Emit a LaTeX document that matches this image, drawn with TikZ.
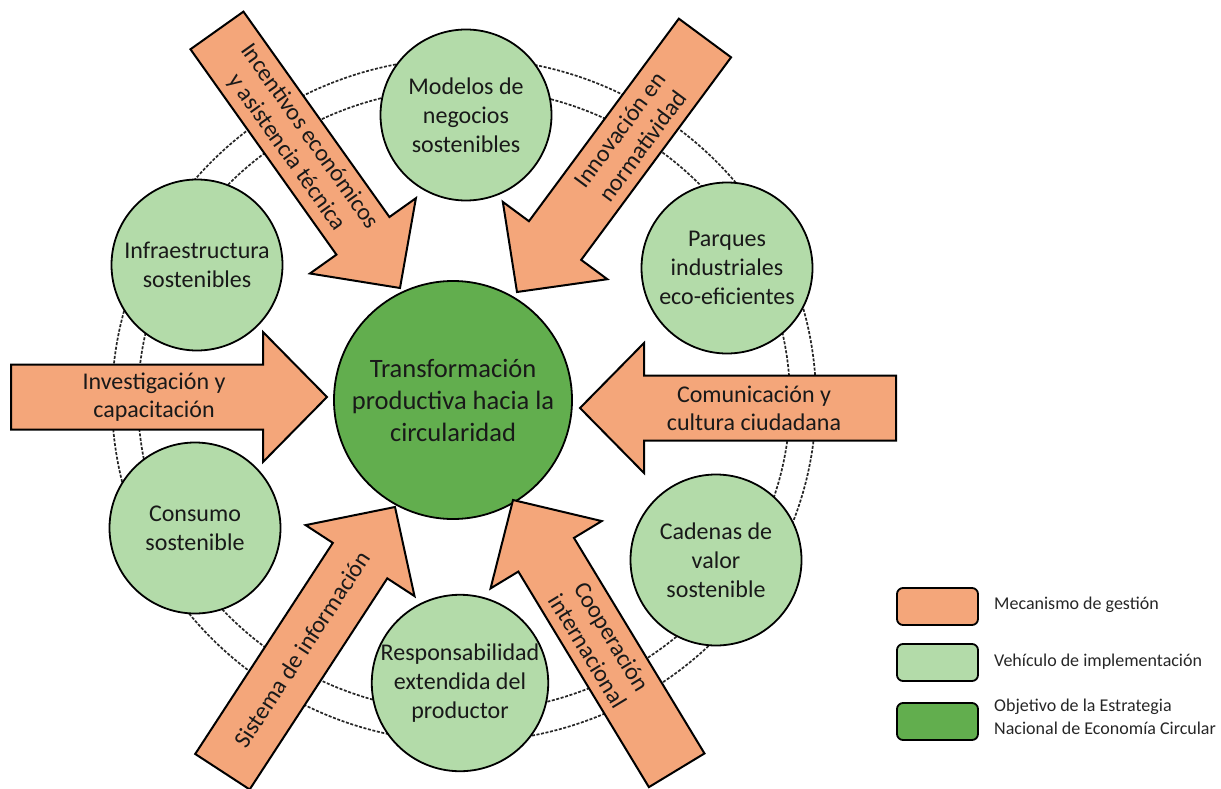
\documentclass[tikz,border=0pt]{standalone}
\usepackage{fontspec}
\setmainfont{Carlito}
\definecolor{morange}{HTML}{F4A67A}
\definecolor{lgreen}{HTML}{B3DBA9}
\definecolor{dgreen}{HTML}{62AE4E}
% name, tip x, tip y, arrow angle, text angle, text distance from tip, text
\newcommand\mecharrow[7]{%
  \begin{scope}[shift={(#2,#3)}, rotate=#4]
    \draw[arrowbox] (0,0) -- (-64,65) -- (-64,32.5) -- (-316,32.5) -- (-316,-32.5) -- (-64,-32.5) -- (-64,-65) -- cycle;
    \node[arrowtext, rotate=#5] (#1) at (-#6,0) {#7};
  \end{scope}}
\begin{document}
\begin{tikzpicture}[x=1pt,y=-1pt,
  vehic/.style={circle, draw=black, line width=1.8pt, fill=lgreen, minimum size=171pt, inner sep=0pt, align=center, font=\fontsize{24}{29}\selectfont, text=black!90},
  objet/.style={circle, draw=black, line width=1.8pt, fill=dgreen, minimum size=238pt, inner sep=0pt, align=center, font=\fontsize{26.5}{32}\selectfont, text=black!90},
  arrowbox/.style={draw=black, line width=2pt, fill=morange, line join=miter},
  arrowtext/.style={align=center, font=\fontsize{24}{28}\selectfont, inner sep=0pt, text=black!90},
  ring/.style={draw=black!85, line width=1.7pt, dash pattern=on 3pt off 1.6pt},
  legbox/.style={draw=black, line width=1.8pt, rounded corners=6pt, minimum width=81pt, minimum height=37pt, inner sep=0pt},
  legtext/.style={anchor=west, align=left, font=\fontsize{18}{23}\selectfont, inner sep=0pt, text=black!85}
]
\useasboundingbox (0,0) rectangle (1221,789);
% dashed rings
\draw[ring] (464,400) ellipse [x radius=352, y radius=342];
\draw[ring] (464,400) ellipse [x radius=326, y radius=312];
% vehicles
\node[vehic] (modelos) at (466,115) {Modelos de\\negocios\\sostenibles};
\node[vehic] (parques) at (727,268) {Parques\\industriales\\eco-eficientes};
\node[vehic] (infra) at (197,265) {Infraestructura\\sostenibles};
\node[vehic] (consumo) at (195,528) {Consumo\\sostenible};
\node[vehic] (resp) at (460,683) {Responsabilidad\\extendida del\\productor};
\node[vehic] (cadenas) at (716,560) {Cadenas de\\valor\\sostenible};
% objective
\node[objet] (centro) at (453,400) {Transformación\\productiva hacia la\\circularidad};
% mechanisms
\mecharrow{incent}{400}{288}{-54.6}{-54.6}{176}{Incentivos económicos\\y asistencia técnica}
\mecharrow{innov}{517}{292}{-126.5}{53.5}{192}{Innovación en\\normatividad}
\mecharrow{invest}{327}{397}{0}{0}{173}{Investigación y\\capacitación}
\mecharrow{comun}{580}{408}{180}{0}{174}{Comunicación y\\cultura ciudadana}
\mecharrow{sist}{395}{507}{56.9}{56.9}{170}{Sistema de información}
\mecharrow{coop}{513}{500}{121.2}{-58.8}{168}{Cooperación\\internacional}
% legend
\node[legbox, fill=morange] (leg1) at (937.5,606.5) {};
\node[legtext] (leg1t) at (994,605) {Mecanismo de gestión};
\node[legbox, fill=lgreen] (leg2) at (937.5,662.5) {};
\node[legtext] (leg2t) at (994,662) {Vehículo de implementación};
\node[legbox, fill=dgreen] (leg3) at (937.5,721.5) {};
\node[legtext] (leg3t) at (994,717) {Objetivo de la Estrategia\\Nacional de Economía Circular};
\end{tikzpicture}
\end{document}
